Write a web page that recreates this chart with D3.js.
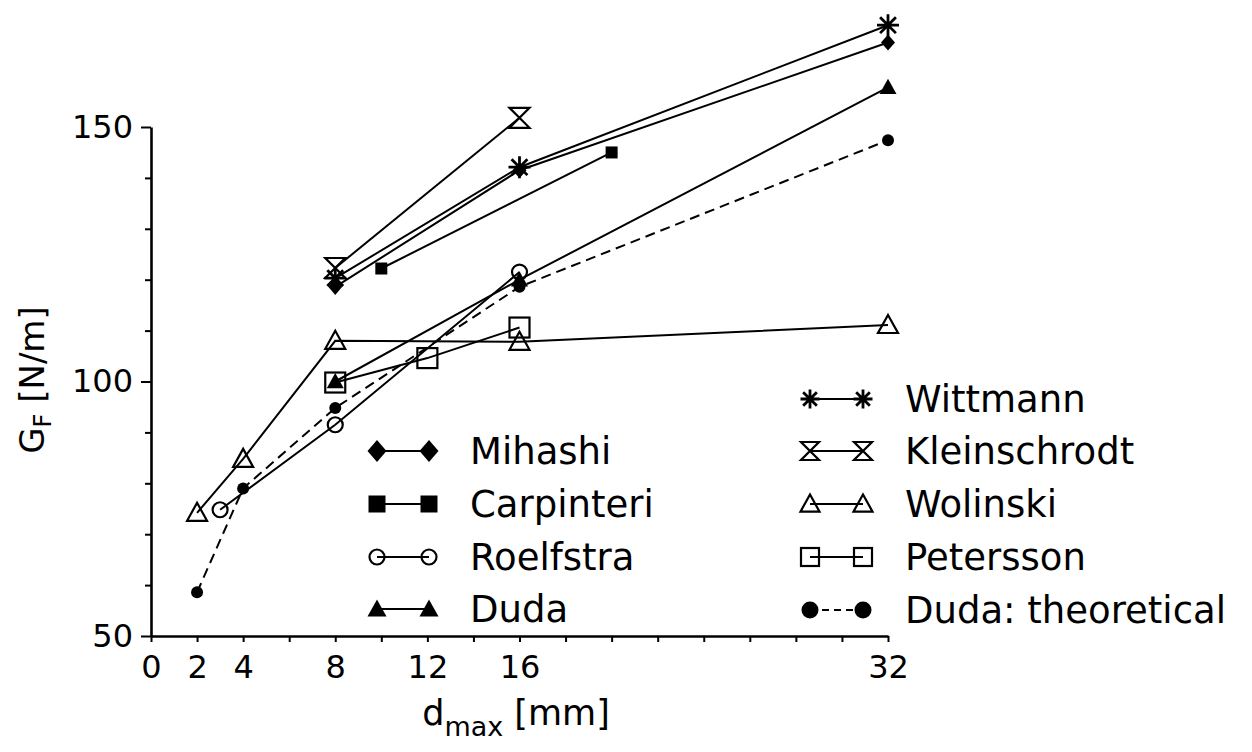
<!DOCTYPE html>
<html>
<head>
<meta charset="utf-8">
<script src="https://cdn.jsdelivr.net/npm/d3@7/dist/d3.min.js"></script>
<style>
  html, body { margin: 0; padding: 0; background: #fff; }
  svg { display: block; font-family: "DejaVu Sans", sans-serif; }
</style>
</head>
<body>
<svg id="chart" width="1252" height="752"></svg>
<script>
// ---------- data ----------
const xTickValues = [0, 2, 4, 6, 8, 10, 12, 14, 16, 18, 20, 22, 24, 26, 28, 30, 32];
const xTickLabels = [0, 2, 4, 8, 12, 16, 32];
const yTickValues = [50, 60, 70, 80, 90, 100, 110, 120, 130, 140, 150];
const yTickLabels = [50, 100, 150];

const mihashiX = [8, 16, 32];
const mihashiY = [118.6, 141.5, 166.6];
const carpinteriX = [10, 20];
const carpinteriY = [122.2, 145.0];
const roelfstraX = [3, 8, 16];
const roelfstraY = [74.8, 91.5, 121.5];
const dudaX = [8, 16, 32];
const dudaY = [100.0, 120.0, 157.8];
const wittmannX = [8, 16, 32];
const wittmannY = [120.3, 142.1, 170.0];
const kleinschrodtX = [8, 16];
const kleinschrodtY = [122.3, 151.8];
const wolinskiX = [2, 4, 8, 16, 32];
const wolinskiY = [74.2, 84.8, 108.0, 107.8, 111.1];
const peterssonX = [8, 12, 16];
const peterssonY = [99.8, 104.6, 110.6];
const dudaTheoX = [2, 4, 8, 16, 32];
const dudaTheoY = [58.6, 79.0, 94.8, 118.6, 147.4];

const seriesNames = ["Mihashi", "Carpinteri", "Roelfstra", "Duda",
                     "Wittmann", "Kleinschrodt", "Wolinski", "Petersson", "Duda: theoretical"];

// ---------- setup ----------
const svg = d3.select("#chart");
const x = d3.scaleLinear().domain([0, 32]).range([151, 888]);
const y = d3.scaleLinear().domain([50, 150]).range([636, 127]);

const zip = (xs, ys) => xs.map((v, i) => [v, ys[i]]);

const series = [
  { name: seriesNames[0], pts: zip(mihashiX, mihashiY), sym: "diamond", size: 14, lsize: 19, dash: null },
  { name: seriesNames[1], pts: zip(carpinteriX, carpinteriY), sym: "square", size: 12, lsize: 17, dash: null },
  { name: seriesNames[2], pts: zip(roelfstraX, roelfstraY), sym: "circle", size: 15, lsize: 15, dash: null },
  { name: seriesNames[3], pts: zip(dudaX, dudaY), sym: "triangle", size: 17, lsize: 19, dash: null },
  { name: seriesNames[4], pts: zip(wittmannX, wittmannY), sym: "asterisk", size: 22, lsize: 19, dash: null },
  { name: seriesNames[5], pts: zip(kleinschrodtX, kleinschrodtY), sym: "hourglass", size: 20, lsize: 18, dash: null },
  { name: seriesNames[6], pts: zip(wolinskiX, wolinskiY), sym: "otriangle", size: 20, lsize: 19, dash: null },
  { name: seriesNames[7], pts: zip(peterssonX, peterssonY), sym: "osquare", size: 20, lsize: 18, dash: null },
  { name: seriesNames[8], pts: zip(dudaTheoX, dudaTheoY), sym: "dot", size: 12, lsize: 17, dash: "10,6" }
];

function drawSymbol(g, type, s) {
  const h = s / 2;
  switch (type) {
    case "diamond":
      g.append("path").attr("d", `M0,${-h*1.15}L${h},0L0,${h*1.15}L${-h},0Z`).attr("fill", "#000");
      break;
    case "square":
      g.append("rect").attr("x", -h).attr("y", -h).attr("width", s).attr("height", s).attr("fill", "#000");
      break;
    case "circle":
      g.append("circle").attr("r", h).attr("fill", "none").attr("stroke", "#000").attr("stroke-width", 2.2);
      break;
    case "dot":
      g.append("circle").attr("r", h).attr("fill", "#000");
      break;
    case "triangle":
      g.append("path").attr("d", `M0,${-h*1.0}L${h},${h*0.8}L${-h},${h*0.8}Z`).attr("fill", "#000");
      break;
    case "otriangle":
      g.append("path").attr("d", `M0,${-h*1.0}L${h},${h*0.8}L${-h},${h*0.8}Z`)
        .attr("fill", "none").attr("stroke", "#000").attr("stroke-width", 2.2).attr("stroke-linejoin", "miter");
      break;
    case "osquare":
      g.append("rect").attr("x", -h).attr("y", -h).attr("width", s).attr("height", s)
        .attr("fill", "none").attr("stroke", "#000").attr("stroke-width", 2.2);
      break;
    case "hourglass":
      g.append("path").attr("d", `M${-h},${-h}L${h},${-h}L${-h},${h}L${h},${h}Z`)
        .attr("fill", "none").attr("stroke", "#000").attr("stroke-width", 2.2).attr("stroke-linejoin", "miter");
      break;
    case "asterisk": {
      const d = h * 0.72;
      g.append("path")
        .attr("d", `M0,${-h}L0,${h}M${-h},0L${h},0M${-d},${-d}L${d},${d}M${-d},${d}L${d},${-d}`)
        .attr("stroke", "#000").attr("stroke-width", 2.8).attr("fill", "none");
      break;
    }
  }
}

// ---------- axes ----------
const xAxis = d3.axisBottom(x)
  .tickValues(xTickValues)
  .tickSizeInner(6).tickSizeOuter(0).tickPadding(13)
  .tickFormat(d => xTickLabels.includes(d) ? d : "");
const gx = svg.append("g").attr("transform", `translate(0,${y(50)})`).call(xAxis);

const yAxis = d3.axisLeft(y)
  .tickValues(yTickValues)
  .tickSizeInner(6).tickSizeOuter(0).tickPadding(12)
  .tickFormat(d => yTickLabels.includes(d) ? d : "");
const gy = svg.append("g").attr("transform", `translate(${x(0)},0)`).call(yAxis);

[gx, gy].forEach(g => {
  g.select(".domain").attr("stroke", "#000").attr("stroke-width", 2.6);
  g.selectAll(".tick line").attr("stroke", "#000").attr("stroke-width", 2);
  g.selectAll(".tick text").attr("fill", "#000").attr("font-size", 32)
    .attr("font-family", "DejaVu Sans, sans-serif");
});
gy.selectAll(".tick line").attr("x2", d => yTickLabels.includes(d) ? -10 : -6);

// ---------- lines ----------
const line = d3.line().x(d => x(d[0])).y(d => y(d[1]));
const plot = svg.append("g");
series.forEach(s => {
  plot.append("path").attr("d", line(s.pts))
    .attr("fill", "none").attr("stroke", "#000").attr("stroke-width", 2)
    .attr("stroke-dasharray", s.dash);
});
series.forEach(s => {
  s.pts.forEach(p => {
    const g = plot.append("g").attr("transform", `translate(${x(p[0])},${y(p[1])})`);
    drawSymbol(g, s.sym, s.size);
  });
});

// ---------- legend ----------
const legendLeft = { x1: 377, x2: 429, tx: 470, rows: [451, 504, 557, 609] };
const legendRight = { x1: 810, x2: 863, tx: 905, rows: [399, 451, 504, 557, 610] };
const legFont = 37;

function legendItem(s, L, i) {
  const cy = L.rows[i];
  const g = svg.append("g");
  g.append("line").attr("x1", L.x1).attr("x2", L.x2).attr("y1", cy).attr("y2", cy)
    .attr("stroke", "#000").attr("stroke-width", 2).attr("stroke-dasharray", s.dash ? "7,5" : null);
  [L.x1, L.x2].forEach(px => {
    drawSymbol(g.append("g").attr("transform", `translate(${px},${cy})`), s.sym, s.lsize);
  });
  g.append("text").attr("x", L.tx).attr("y", cy + legFont * 0.36)
    .attr("font-size", legFont).attr("fill", "#000").text(s.name);
}
series.slice(0, 4).forEach((s, i) => legendItem(s, legendLeft, i));
series.slice(4).forEach((s, i) => legendItem(s, legendRight, i));

// ---------- axis titles ----------
const yt = svg.append("text").attr("transform", "translate(44,380) rotate(-90)")
  .attr("text-anchor", "middle").attr("font-size", 34).attr("fill", "#000");
yt.append("tspan").text("G");
yt.append("tspan").attr("font-size", 24).attr("dy", 7).text("F");
yt.append("tspan").attr("dy", -7).text(" [N/m]");

const xt = svg.append("text").attr("x", 516).attr("y", 725)
  .attr("text-anchor", "middle").attr("font-size", 35).attr("fill", "#000");
xt.append("tspan").text("d");
xt.append("tspan").attr("font-size", 27).attr("dy", 11).text("max");
xt.append("tspan").attr("dy", -11).text(" [mm]");
</script>
</body>
</html>
